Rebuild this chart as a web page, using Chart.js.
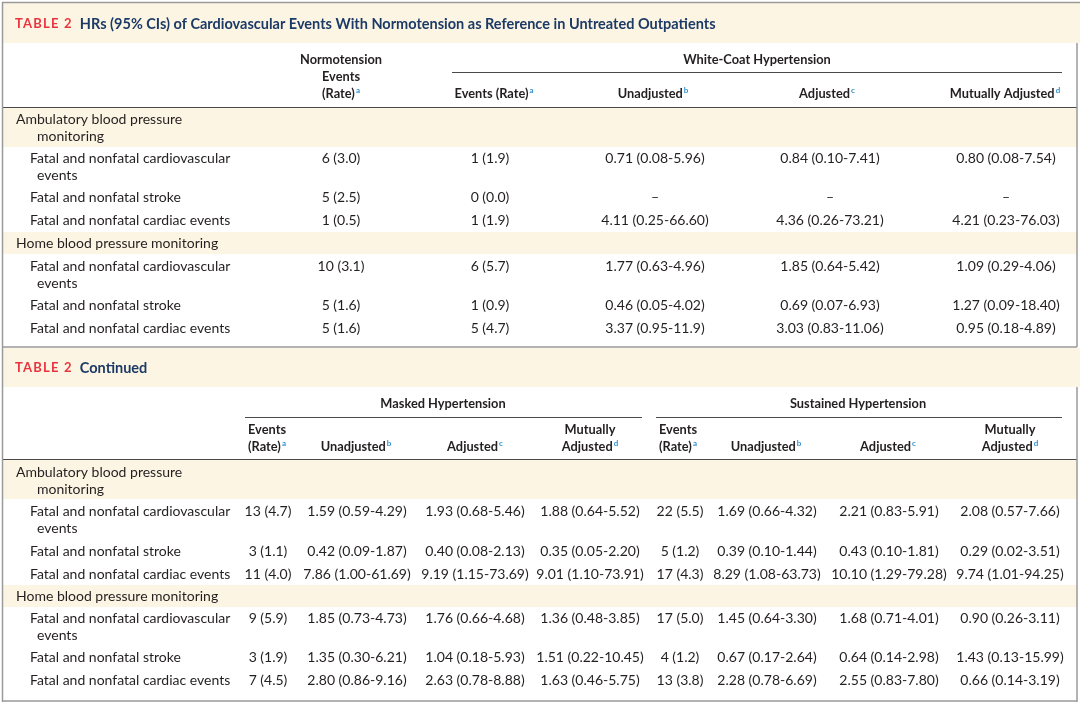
<!DOCTYPE html>
<html>
<head>
<meta charset="utf-8">
<script src="https://cdn.jsdelivr.net/npm/chart.js@4.4.0/dist/chart.umd.min.js"></script>
<style>
  html, body { margin: 0; padding: 0; background: #fff; }
  #wrap { width: 1080px; height: 704px; }
</style>
</head>
<body>
<div id="wrap"><canvas id="table" width="1080" height="704"></canvas></div>
<script>
const groupLabels = ["Ambulatory blood pressure\nmonitoring", "Home blood pressure monitoring"];
const outcomeLabels = [
  "Fatal and nonfatal cardiovascular\nevents", "Fatal and nonfatal stroke", "Fatal and nonfatal cardiac events",
  "Fatal and nonfatal cardiovascular\nevents", "Fatal and nonfatal stroke", "Fatal and nonfatal cardiac events"
];

const normoEvents = ["6 (3.0)", "5 (2.5)", "1 (0.5)", "10 (3.1)", "5 (1.6)", "5 (1.6)"];
const wchEvents = ["1 (1.9)", "0 (0.0)", "1 (1.9)", "6 (5.7)", "1 (0.9)", "5 (4.7)"];
const wchUnadj = ["0.71 (0.08-5.96)", "\u2013", "4.11 (0.25-66.60)", "1.77 (0.63-4.96)", "0.46 (0.05-4.02)", "3.37 (0.95-11.9)"];
const wchAdj = ["0.84 (0.10-7.41)", "\u2013", "4.36 (0.26-73.21)", "1.85 (0.64-5.42)", "0.69 (0.07-6.93)", "3.03 (0.83-11.06)"];
const wchMutual = ["0.80 (0.08-7.54)", "\u2013", "4.21 (0.23-76.03)", "1.09 (0.29-4.06)", "1.27 (0.09-18.40)", "0.95 (0.18-4.89)"];

const mhEvents = ["13 (4.7)", "3 (1.1)", "11 (4.0)", "9 (5.9)", "3 (1.9)", "7 (4.5)"];
const mhUnadj = ["1.59 (0.59-4.29)", "0.42 (0.09-1.87)", "7.86 (1.00-61.69)", "1.85 (0.73-4.73)", "1.35 (0.30-6.21)", "2.80 (0.86-9.16)"];
const mhAdj = ["1.93 (0.68-5.46)", "0.40 (0.08-2.13)", "9.19 (1.15-73.69)", "1.76 (0.66-4.68)", "1.04 (0.18-5.93)", "2.63 (0.78-8.88)"];
const mhMutual = ["1.88 (0.64-5.52)", "0.35 (0.05-2.20)", "9.01 (1.10-73.91)", "1.36 (0.48-3.85)", "1.51 (0.22-10.45)", "1.63 (0.46-5.75)"];

const shEvents = ["22 (5.5)", "5 (1.2)", "17 (4.3)", "17 (5.0)", "4 (1.2)", "13 (3.8)"];
const shUnadj = ["1.69 (0.66-4.32)", "0.39 (0.10-1.44)", "8.29 (1.08-63.73)", "1.45 (0.64-3.30)", "0.67 (0.17-2.64)", "2.28 (0.78-6.69)"];
const shAdj = ["2.21 (0.83-5.91)", "0.43 (0.10-1.81)", "10.10 (1.29-79.28)", "1.68 (0.71-4.01)", "0.64 (0.14-2.98)", "2.55 (0.83-7.80)"];
const shMutual = ["2.08 (0.57-7.66)", "0.29 (0.02-3.51)", "9.74 (1.01-94.25)", "0.90 (0.26-3.11)", "1.43 (0.13-15.99)", "0.66 (0.14-3.19)"];

const titleTag = "TABLE 2";
const titleMain = "HRs (95% CIs) of Cardiovascular Events With Normotension as Reference in Untreated Outpatients";
const titleCont = "Continued";

// ---- layout (pixel-like units on hidden linear scales) ----
const COLORS = {
  cream: "#fdf5e3",
  text: "#231f20",
  red: "#e8343f",
  navy: "#1c3a66",
  sup: "#2f8fd0",
  rule: "#4a4a4a",
  frame: "#9a9a9a"
};
const FONT = "Lato, 'Noto Sans', sans-serif";
const LINE_H = 17;

const t1Rows = [158, 197, 220, 266, 305, 328];
const t1Groups = [119, 243];
const t2Rows = [511, 551, 574, 618, 657, 680];
const t2Groups = [472, 596];

function cells(x, rows, texts, extra) {
  return Object.assign({
    type: "scatter",
    data: rows.map((y) => ({ x: x, y: y })),
    texts: texts,
    pointRadius: 0,
    pointHoverRadius: 0,
    clip: false,
    align: "center",
    font: "400 14px " + FONT,
    color: COLORS.text
  }, extra || {});
}

const headFont = "700 12.8px " + FONT;

const datasets = [
  // table 1 header
  cells(341, [60], ["Normotension\nEvents\n(Rate)^a"], { font: headFont }),
  cells(757, [60], ["White-Coat Hypertension"], { font: headFont }),
  cells(494, [94], ["Events (Rate)^a"], { font: headFont }),
  cells(653, [94], ["Unadjusted^b"], { font: headFont }),
  cells(827, [94], ["Adjusted^c"], { font: headFont }),
  cells(1005, [94], ["Mutually Adjusted^d"], { font: headFont }),
  // table 1 body
  cells(16, t1Groups, groupLabels, { align: "left", indent: 21 }),
  cells(30, t1Rows, outcomeLabels, { align: "left", indent: 7 }),
  cells(341, t1Rows, normoEvents),
  cells(490, t1Rows, wchEvents),
  cells(655, t1Rows, wchUnadj),
  cells(830, t1Rows, wchAdj),
  cells(1006, t1Rows, wchMutual),
  // table 2 header
  cells(443, [404], ["Masked Hypertension"], { font: headFont }),
  cells(858, [404], ["Sustained Hypertension"], { font: headFont }),
  cells(267, [430], ["Events\n(Rate)^a"], { font: headFont }),
  cells(356, [447], ["Unadjusted^b"], { font: headFont }),
  cells(475, [447], ["Adjusted^c"], { font: headFont }),
  cells(590, [430], ["Mutually\nAdjusted^d"], { font: headFont }),
  cells(678, [430], ["Events\n(Rate)^a"], { font: headFont }),
  cells(766, [447], ["Unadjusted^b"], { font: headFont }),
  cells(888, [447], ["Adjusted^c"], { font: headFont }),
  cells(1010, [430], ["Mutually\nAdjusted^d"], { font: headFont }),
  // table 2 body
  cells(16, t2Groups, groupLabels, { align: "left", indent: 21 }),
  cells(30, t2Rows, outcomeLabels, { align: "left", indent: 7 }),
  cells(268, t2Rows, mhEvents),
  cells(357, t2Rows, mhUnadj),
  cells(475, t2Rows, mhAdj),
  cells(590, t2Rows, mhMutual),
  cells(680, t2Rows, shEvents),
  cells(767, t2Rows, shUnadj),
  cells(889, t2Rows, shAdj),
  cells(1010, t2Rows, shMutual)
];

// draws one line, with an optional "^x" superscript at its end
function drawLine(ctx, line, x, y, ds) {
  const parts = line.split("^");
  const main = parts[0];
  const sup = parts[1] || "";
  ctx.font = ds.font;
  const wMain = ctx.measureText(main).width;
  const supFont = "700 8px " + FONT;
  ctx.font = supFont;
  const wSup = sup ? ctx.measureText(sup).width + 1 : 0;
  let left = x;
  if (ds.align === "center") left = x - (wMain + wSup) / 2;
  ctx.font = ds.font;
  ctx.fillStyle = ds.color;
  ctx.textAlign = "left";
  ctx.textBaseline = "middle";
  ctx.fillText(main, left, y);
  if (sup) {
    ctx.font = supFont;
    ctx.fillStyle = COLORS.sup;
    ctx.fillText(sup, left + wMain + 1, y - 4);
  }
}

const cellText = {
  id: "cellText",
  afterDatasetsDraw(chart) {
    const ctx = chart.ctx;
    ctx.save();
    chart.data.datasets.forEach((ds, i) => {
      const meta = chart.getDatasetMeta(i);
      meta.data.forEach((pt, j) => {
        const lines = String(ds.texts[j]).split("\n");
        lines.forEach((line, k) => {
          const x = k > 0 && ds.indent ? pt.x + ds.indent : pt.x;
          drawLine(ctx, line, x, pt.y + k * LINE_H, ds);
        });
      });
    });
    ctx.restore();
  }
};

const tableFrame = {
  id: "tableFrame",
  beforeDatasetsDraw(chart) {
    const ctx = chart.ctx;
    const xs = chart.scales.x;
    const ys = chart.scales.y;
    const px = (v) => xs.getPixelForValue(v);
    const py = (v) => ys.getPixelForValue(v);
    ctx.save();

    const band = (x0, y0, x1, y1) => {
      ctx.fillStyle = COLORS.cream;
      ctx.fillRect(px(x0), py(y0), px(x1) - px(x0), py(y1) - py(y0));
    };
    const hline = (x0, x1, y, color, w) => {
      ctx.strokeStyle = color;
      ctx.lineWidth = w;
      ctx.beginPath();
      ctx.moveTo(px(x0), py(y));
      ctx.lineTo(px(x1), py(y));
      ctx.stroke();
    };
    const vline = (x, y0, y1, color, w) => {
      ctx.strokeStyle = color;
      ctx.lineWidth = w;
      ctx.beginPath();
      ctx.moveTo(px(x), py(y0));
      ctx.lineTo(px(x), py(y1));
      ctx.stroke();
    };

    // cream bands
    band(3, 3, 1080, 43);
    band(3, 108, 1077, 147);
    band(3, 232, 1077, 254);
    band(3, 348, 1080, 387);
    band(3, 460, 1077, 499);
    band(3, 585, 1077, 607);

    // rules
    hline(2, 1080, 2.5, COLORS.frame, 1.5);
    hline(452, 1062, 72.5, COLORS.rule, 1);
    hline(3, 1077, 107.5, COLORS.rule, 1.2);
    hline(3, 1077, 347, COLORS.frame, 1.5);
    hline(245, 642, 417.5, COLORS.rule, 1);
    hline(656, 1062, 417.5, COLORS.rule, 1);
    hline(3, 1077, 459.5, COLORS.rule, 1.2);
    hline(3, 1077, 701, COLORS.frame, 1.5);
    vline(2.5, 2, 702, COLORS.frame, 1.5);
    vline(1077, 43, 347, COLORS.frame, 1.5);
    vline(1077, 387, 702, COLORS.frame, 1.5);

    // titles
    ctx.textBaseline = "middle";
    ctx.textAlign = "left";
    const drawTitle = (y, rest) => {
      ctx.font = "700 13px " + FONT;
      ctx.fillStyle = COLORS.red;
      if ("letterSpacing" in ctx) ctx.letterSpacing = "1.2px";
      ctx.fillText(titleTag, px(15), py(y));
      const w = ctx.measureText(titleTag).width;
      if ("letterSpacing" in ctx) ctx.letterSpacing = "0px";
      ctx.font = "700 14.5px " + FONT;
      ctx.fillStyle = COLORS.navy;
      ctx.fillText(rest, px(15) + w + 7, py(y));
    };
    drawTitle(24, titleMain);
    drawTitle(368, titleCont);

    ctx.restore();
  }
};

new Chart(document.getElementById("table"), {
  type: "scatter",
  data: { datasets: datasets },
  options: {
    responsive: false,
    animation: false,
    events: [],
    layout: { padding: 0 },
    scales: {
      x: { type: "linear", min: 0, max: 1080, display: false },
      y: { type: "linear", min: 0, max: 704, reverse: true, display: false }
    },
    plugins: {
      legend: { display: false },
      tooltip: { enabled: false }
    }
  },
  plugins: [tableFrame, cellText]
});
</script>
</body>
</html>
